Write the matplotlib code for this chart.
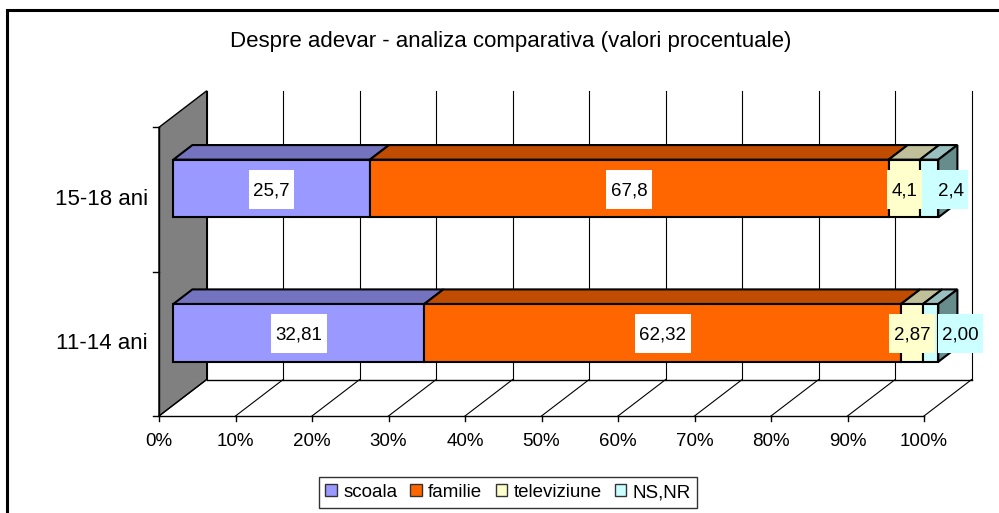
import matplotlib
matplotlib.use("Agg")
import matplotlib.pyplot as plt
from matplotlib.patches import Polygon, Patch, Rectangle

plt.rcParams['font.family'] = ['Liberation Sans', 'DejaVu Sans']

# data (percent, 100% stacked)
categories = ["11-14 ani", "15-18 ani"]
series = ["scoala", "familie", "televiziune", "NS,NR"]
scoala = [32.81, 25.7]
familie = [62.32, 67.8]
televiziune = [2.87, 4.1]
ns_nr = [2.00, 2.4]
labels_scoala = ["32,81", "25,7"]
labels_familie = ["62,32", "67,8"]
labels_televiziune = ["2,87", "4,1"]
labels_ns_nr = ["2,00", "2,4"]
ticks = [0, 10, 20, 30, 40, 50, 60, 70, 80, 90, 100]
tick_labels = ["0%", "10%", "20%", "30%", "40%", "50%", "60%", "70%", "80%", "90%", "100%"]
title = "Despre adevar - analiza comparativa (valori procentuale)"

values = [scoala, familie, televiziune, ns_nr]
texts = [labels_scoala, labels_familie, labels_televiziune, labels_ns_nr]

front_cols = ["#9999FF", "#FF6600", "#FFFFCC", "#CCFFFF"]
top_cols = ["#7373BF", "#BF4C00", "#BFBF99", "#99BFBF"]
side_col = "#668C8C"
label_bg = ["white", "white", "#FFFFCC", "#CCFFFF"]
# NS,NR labels are pushed right of their thin segment
nudge_last = [3.9, 2.8]

# layout: pixel geometry of the front plane
W, H = 999, 513
X0_PX, X_SCALE = 159, 7.65        # px of 0%, px per percent
FLOOR_PX, BAND_PX = 416, 144.35   # px of floor, px per category band
DX, DY = 47.7 / X_SCALE, 36.5 / BAND_PX   # full depth offset in data units
D_FRONT, D_BACK = 0.3, 0.7        # depth of bar front / back faces
HALF = 0.2                        # half bar height in category units

fig = plt.figure(figsize=(W / 100, H / 100), dpi=100)
ax = fig.add_axes([0, 0, 1, 1])
ax.set_xlim(-X0_PX / X_SCALE, (W - X0_PX) / X_SCALE)
ax.set_ylim((FLOOR_PX - H) / BAND_PX - 0.5, FLOOR_PX / BAND_PX - 0.5)
ax.axis("off")


def pt(v, u, d):
    return (v + d * DX, u + d * DY)


lo, hi = -0.5, len(categories) - 0.5

# left wall
ax.add_patch(Polygon([pt(0, lo, 0), pt(0, lo, 1), pt(0, hi, 1), pt(0, hi, 0)],
                     closed=True, facecolor="#808080", edgecolor="black", lw=1, zorder=1))
# back wall gridlines and floor lines
for t in ticks:
    (xa, ya), (xb, yb) = pt(t, lo, 1), pt(t, hi, 1)
    ax.plot([xa, xb], [ya, yb], color="black", lw=0.8, zorder=1)
    (xa, ya), (xb, yb) = pt(t, lo, 0), pt(t, lo, 1)
    ax.plot([xa, xb], [ya, yb], color="black", lw=0.8, zorder=1)
for d in (0, 1):
    (xa, ya), (xb, yb) = pt(0, lo, d), pt(100, lo, d)
    ax.plot([xa, xb], [ya, yb], color="black", lw=1.0, zorder=1)
# front axis line
ax.plot([0, 0], [lo, hi], color="black", lw=1.0, zorder=1)

# ticks
tick_dy = 5 / BAND_PX
tick_dx = 6 / X_SCALE
for t, lab in zip(ticks, tick_labels):
    ax.plot([t, t], [lo, lo - tick_dy], color="black", lw=1.0, zorder=1)
    ax.annotate(lab, (t, lo), xytext=(0, -21.5), textcoords="offset points",
                ha="center", va="baseline", fontsize=13.5)
for u in [lo + k for k in range(len(categories) + 1)]:
    ax.plot([-tick_dx, 0], [u, u], color="black", lw=1.0, zorder=1)
for i, cat in enumerate(categories):
    ax.annotate(cat, (0, i), xytext=(-8, 0), textcoords="offset points",
                ha="right", va="center", fontsize=16)

# stacked 3d bars
value_labels = []
for i in range(len(categories)):
    cum = 0
    for j, vals in enumerate(values):
        x0, x1 = cum, cum + vals[i]
        top = [pt(x0, i + HALF, D_FRONT), pt(x1, i + HALF, D_FRONT),
               pt(x1, i + HALF, D_BACK), pt(x0, i + HALF, D_BACK)]
        ax.add_patch(Polygon(top, closed=True, facecolor=top_cols[j],
                             edgecolor="black", lw=1.5, zorder=3))
        front = [pt(x0, i - HALF, D_FRONT), pt(x1, i - HALF, D_FRONT),
                 pt(x1, i + HALF, D_FRONT), pt(x0, i + HALF, D_FRONT)]
        ax.add_patch(Polygon(front, closed=True, facecolor=front_cols[j],
                             edgecolor="black", lw=1.5, zorder=3))
        if j == len(values) - 1:
            side = [pt(x1, i - HALF, D_FRONT), pt(x1, i + HALF, D_FRONT),
                    pt(x1, i + HALF, D_BACK), pt(x1, i - HALF, D_BACK)]
            ax.add_patch(Polygon(side, closed=True, facecolor=side_col,
                                 edgecolor="black", lw=1.5, zorder=3))
        cx = (x0 + x1) / 2 + (nudge_last[i] if j == len(values) - 1 else 0)
        lx, ly = pt(cx, i, D_FRONT)
        txt = ax.text(lx, ly, texts[j][i], ha="center", va="center_baseline",
                      fontsize=13.5, zorder=5)
        value_labels.append((txt, label_bg[j]))
        cum = x1

# label boxes: Excel style, a little wider and much taller than the text
fig.canvas.draw()
renderer = fig.canvas.get_renderer()
for txt, bg in value_labels:
    bb = txt.get_window_extent(renderer)
    cxp, cyp = (bb.x0 + bb.x1) / 2, (bb.y0 + bb.y1) / 2
    bw, bh = bb.width + 9, 39
    ax.add_patch(Rectangle((cxp - bw / 2, cyp - bh / 2 + 1), bw, bh, transform=None,
                           facecolor=bg, edgecolor="none", zorder=4))

# title
fig.text(511 / W, 1 - 42 / H, title, ha="center", va="center", fontsize=16)

# legend
handles = [Patch(facecolor=c, edgecolor="#333333", lw=1) for c in front_cols]
leg = fig.legend(handles, series, loc="center", bbox_to_anchor=(508 / W, 1 - 492.5 / H),
                 ncol=4, fontsize=13.5, frameon=True, fancybox=False,
                 handlelength=0.6, handleheight=0.6, handletextpad=0.35,
                 columnspacing=0.7, borderpad=0.35, borderaxespad=0)
leg.get_frame().set_edgecolor("black")
leg.get_frame().set_linewidth(1.0)

# chart area border (runs off the right and bottom edges)
fig.patches.append(Rectangle((7 / W, -0.1), 2, 1.1 - 10 / H, transform=fig.transFigure,
                             fill=False, edgecolor="black", lw=2.2))

fig.savefig("out.png", dpi=100)
